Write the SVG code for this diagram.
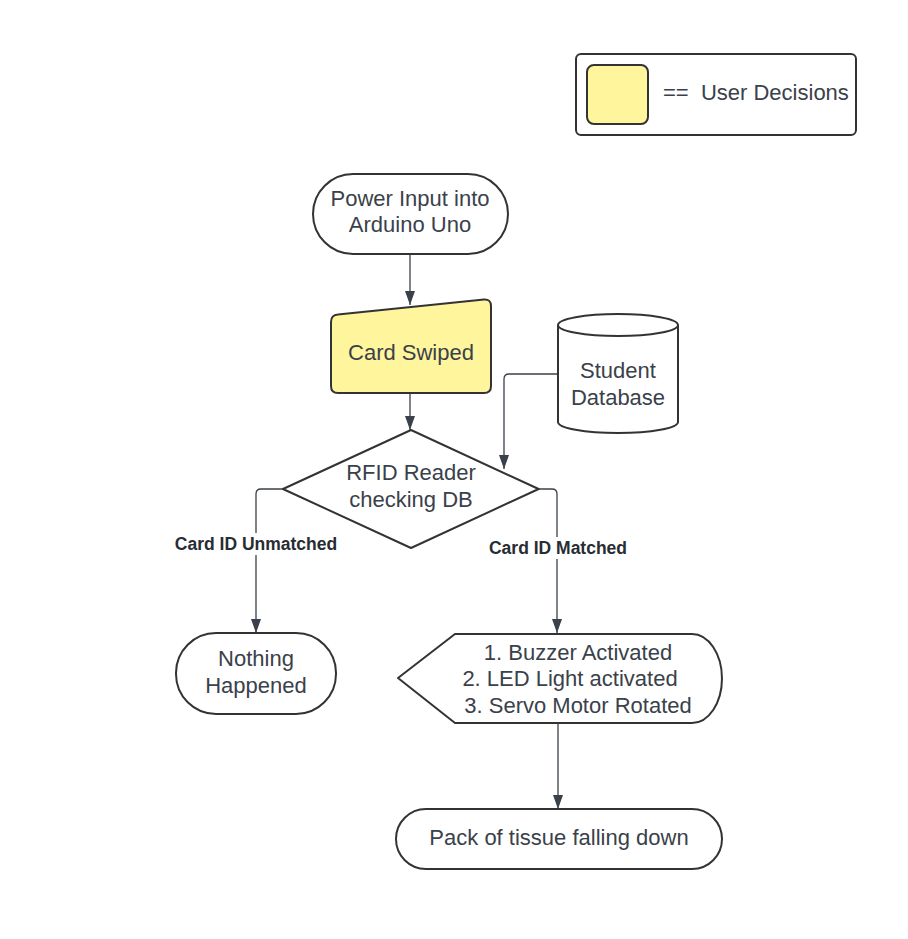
<svg xmlns="http://www.w3.org/2000/svg" width="908" height="939" viewBox="0 0 908 939">
<style>
  .shape { fill: #ffffff; stroke: #333333; stroke-width: 2; stroke-linejoin: round; }
  .yellow { fill: #fff59d; }
  .txt { font-family: "Liberation Sans", Arial, sans-serif; font-size: 22px; fill: #3a414a; text-anchor: middle; }
  .lbl { font-family: "Liberation Sans", Arial, sans-serif; font-size: 17.5px; font-weight: bold; fill: #282c33; text-anchor: middle; }
  .conn { fill: none; stroke: #3a414a; stroke-width: 1.3; }
</style>
<defs>
  <marker id="arrow" viewBox="0 0 14 10" refX="14" refY="5" markerWidth="14" markerHeight="10" markerUnits="userSpaceOnUse" orient="auto">
    <path d="M0,0 L14,5 L0,10 Z" fill="#3a414a"/>
  </marker>
</defs>
<rect width="908" height="939" fill="#ffffff"/>

<g id="legend">
  <rect class="shape" x="576" y="54" width="280" height="81" rx="5"/>
  <rect class="shape yellow" x="587" y="65" width="61" height="59" rx="7"/>
  <text class="txt" x="663" y="100" style="text-anchor:start" xml:space="preserve">==  User Decisions</text>
</g>

<g id="connectors">
  <path class="conn" d="M410,254 L410,305" marker-end="url(#arrow)"/>
  <path class="conn" d="M410,393 L410,430" marker-end="url(#arrow)"/>
  <path class="conn" d="M558,374 L509,374 Q504,374 504,379 L504,469" marker-end="url(#arrow)"/>
  <path class="conn" d="M283,489 L261,489 Q256,489 256,494 L256,633" marker-end="url(#arrow)"/>
  <path class="conn" d="M538.6,489 L552,489 Q557,489 557,494 L557,633" marker-end="url(#arrow)"/>
  <path class="conn" d="M558,723 L558,809" marker-end="url(#arrow)"/>
</g>

<g id="label-unmatched">
  <rect x="171" y="533" width="170" height="22" fill="#ffffff"/>
  <text class="lbl" x="256" y="550">Card ID Unmatched</text>
</g>
<g id="label-matched">
  <rect x="486" y="537" width="144" height="22" fill="#ffffff"/>
  <text class="lbl" x="558" y="554">Card ID Matched</text>
</g>

<g id="power-input">
  <rect class="shape" x="313" y="174" width="195" height="80" rx="40"/>
  <text class="txt" x="410" y="206">Power Input into</text>
  <text class="txt" x="410" y="232">Arduino Uno</text>
</g>

<g id="card-swiped">
  <path class="shape yellow" d="M331,322 Q331,315 338,314.5 L484,299.5 Q491,299 491,306 L491,386 Q491,393 484,393 L338,393 Q331,393 331,386 Z"/>
  <text class="txt" x="411" y="360">Card Swiped</text>
</g>

<g id="student-database">
  <path class="shape" d="M558,325 A60,11 0 0 1 678,325 L678,422 A60,11 0 0 1 558,422 Z"/>
  <path class="shape" d="M558,325 A60,11 0 0 0 678,325" fill="none"/>
  <text class="txt" x="618" y="378">Student</text>
  <text class="txt" x="618" y="405">Database</text>
</g>

<g id="rfid-reader">
  <polygon class="shape" points="411,430 538.6,489 411,548 283,489"/>
  <text class="txt" x="411" y="480">RFID Reader</text>
  <text class="txt" x="411" y="507">checking DB</text>
</g>

<g id="nothing-happened">
  <rect class="shape" x="176" y="633" width="160" height="81" rx="40"/>
  <text class="txt" x="256" y="666">Nothing</text>
  <text class="txt" x="256" y="693">Happened</text>
</g>

<g id="outputs">
  <path class="shape" d="M398,678 L455,634 L692,634 A30,44.5 0 0 1 692,723 L455,723 Z"/>
  <text class="txt" x="578" y="660">1. Buzzer Activated</text>
  <text class="txt" x="570" y="686">2. LED Light activated</text>
  <text class="txt" x="578" y="713">3. Servo Motor Rotated</text>
</g>

<g id="pack-of-tissue">
  <rect class="shape" x="396" y="809" width="326" height="60" rx="30"/>
  <text class="txt" x="559" y="845">Pack of tissue falling down</text>
</g>
</svg>
